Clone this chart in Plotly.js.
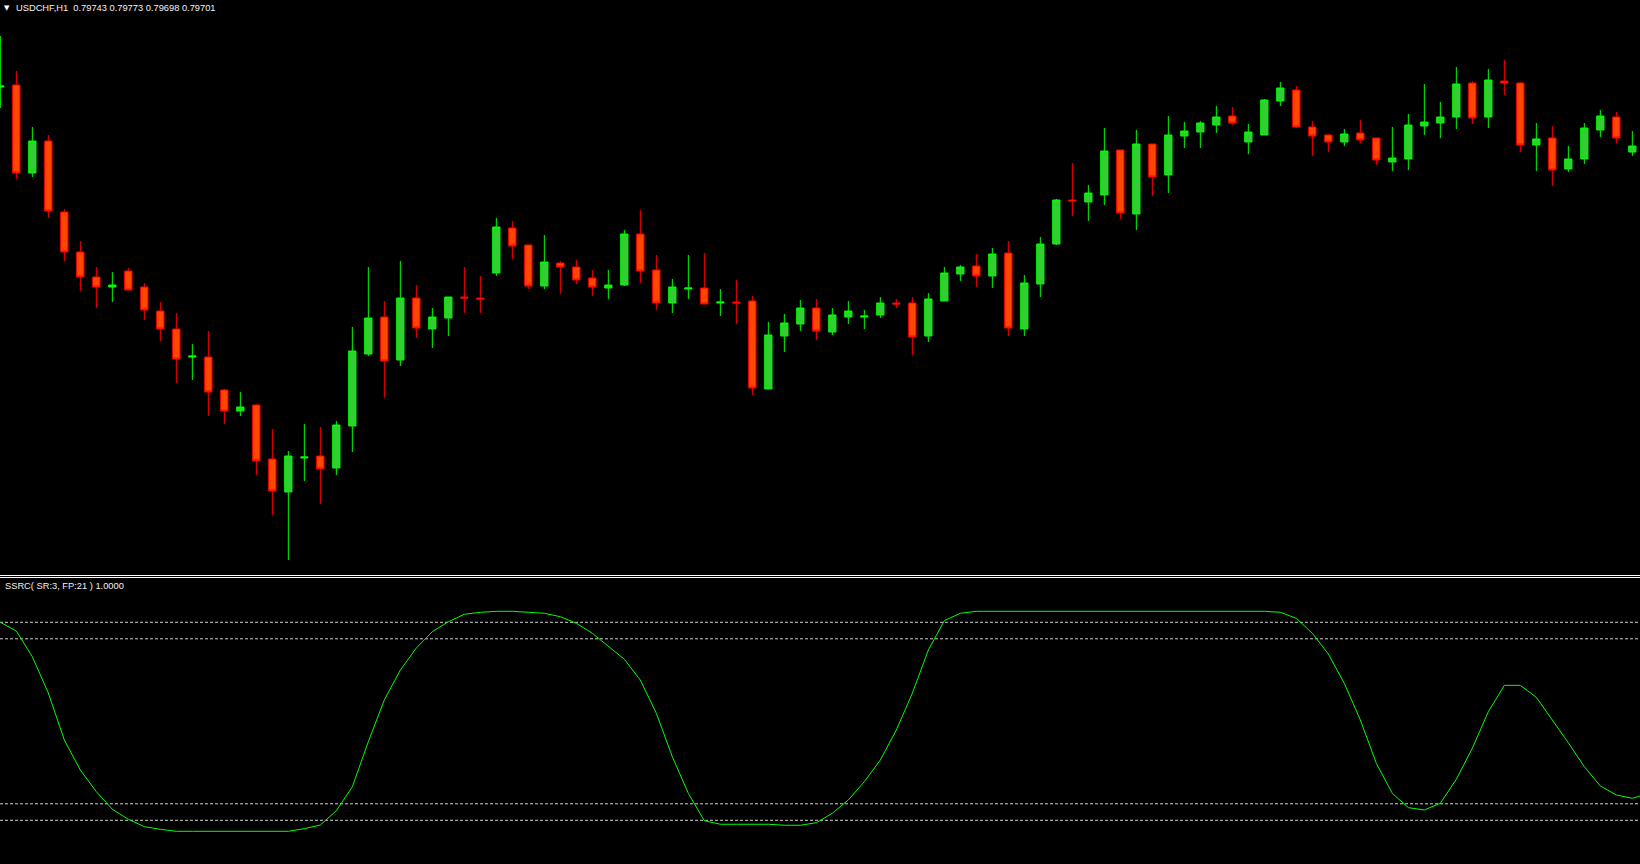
<!DOCTYPE html>
<html>
<head>
<meta charset="utf-8">
<script src="https://cdn.plot.ly/plotly-3.0.1.min.js"></script>
<style>html,body{margin:0;padding:0;background:#000;}#chart{width:1640px;height:864px;}</style>
</head>
<body>
<div id="chart"></div>
<script>
const symbol = 'USDCHF';
const timeframe = 'H1';
const indicatorLabel = 'SSRC( SR:3, FP:21 ) 1.0000';

const open = [
0.79905, 0.79911, 0.79647, 0.79743, 0.79530, 0.79410, 0.79335, 0.79305, 0.79353, 0.79305,
0.79233, 0.79179, 0.79095, 0.79095, 0.78996, 0.78933, 0.78951, 0.78789, 0.78690, 0.78792,
0.78798, 0.78762, 0.78888, 0.79104, 0.79215, 0.79086, 0.79272, 0.79179, 0.79212, 0.79275,
0.79272, 0.79347, 0.79482, 0.79431, 0.79308, 0.79377, 0.79365, 0.79332, 0.79302, 0.79311,
0.79464, 0.79356, 0.79257, 0.79299, 0.79302, 0.79257, 0.79260, 0.79263, 0.78999, 0.79158,
0.79194, 0.79242, 0.79170, 0.79215, 0.79215, 0.79221, 0.79257, 0.79257, 0.79158, 0.79263,
0.79344, 0.79368, 0.79338, 0.79407, 0.79179, 0.79314, 0.79434, 0.79566, 0.79560, 0.79581,
0.79716, 0.79524, 0.79734, 0.79641, 0.79758, 0.79770, 0.79791, 0.79818, 0.79740, 0.79761,
0.79863, 0.79896, 0.79785, 0.79761, 0.79740, 0.79767, 0.79752, 0.79680, 0.79689, 0.79788,
0.79797, 0.79815, 0.79917, 0.79815, 0.79923, 0.79917, 0.79731, 0.79752, 0.79659, 0.79689,
0.79776, 0.79815, 0.79710, 0.79743
];
const high = [
0.80058, 0.79953, 0.79785, 0.79761, 0.79539, 0.79443, 0.79365, 0.79350, 0.79362, 0.79317,
0.79260, 0.79227, 0.79134, 0.79173, 0.78999, 0.78990, 0.78954, 0.78879, 0.78813, 0.78894,
0.78885, 0.78903, 0.79185, 0.79365, 0.79263, 0.79383, 0.79311, 0.79242, 0.79275, 0.79365,
0.79338, 0.79512, 0.79503, 0.79431, 0.79461, 0.79383, 0.79386, 0.79356, 0.79356, 0.79476,
0.79536, 0.79401, 0.79329, 0.79401, 0.79407, 0.79299, 0.79326, 0.79278, 0.79200, 0.79224,
0.79266, 0.79269, 0.79242, 0.79263, 0.79236, 0.79275, 0.79269, 0.79275, 0.79287, 0.79365,
0.79371, 0.79404, 0.79422, 0.79443, 0.79341, 0.79455, 0.79569, 0.79677, 0.79611, 0.79782,
0.79716, 0.79776, 0.79734, 0.79818, 0.79800, 0.79803, 0.79848, 0.79845, 0.79794, 0.79869,
0.79920, 0.79908, 0.79803, 0.79764, 0.79779, 0.79806, 0.79752, 0.79785, 0.79824, 0.79914,
0.79860, 0.79965, 0.79923, 0.79959, 0.79986, 0.79920, 0.79797, 0.79788, 0.79728, 0.79797,
0.79836, 0.79830, 0.79773, 0.79773
];
const low = [
0.79842, 0.79629, 0.79635, 0.79512, 0.79383, 0.79293, 0.79242, 0.79260, 0.79296, 0.79206,
0.79143, 0.79017, 0.79026, 0.78918, 0.78894, 0.78918, 0.78741, 0.78621, 0.78486, 0.78723,
0.78654, 0.78741, 0.78810, 0.79098, 0.78972, 0.79068, 0.79152, 0.79122, 0.79158, 0.79227,
0.79227, 0.79338, 0.79389, 0.79299, 0.79299, 0.79284, 0.79314, 0.79278, 0.79269, 0.79308,
0.79317, 0.79236, 0.79227, 0.79269, 0.79254, 0.79218, 0.79194, 0.78981, 0.78999, 0.79110,
0.79173, 0.79146, 0.79161, 0.79194, 0.79179, 0.79212, 0.79242, 0.79101, 0.79140, 0.79263,
0.79323, 0.79305, 0.79302, 0.79158, 0.79158, 0.79275, 0.79431, 0.79518, 0.79503, 0.79551,
0.79509, 0.79476, 0.79578, 0.79587, 0.79722, 0.79722, 0.79767, 0.79791, 0.79704, 0.79761,
0.79848, 0.79782, 0.79698, 0.79710, 0.79728, 0.79737, 0.79671, 0.79653, 0.79656, 0.79761,
0.79752, 0.79779, 0.79794, 0.79782, 0.79881, 0.79710, 0.79653, 0.79608, 0.79650, 0.79674,
0.79755, 0.79737, 0.79698, 0.79698
];
const close = [
0.79908, 0.79647, 0.79743, 0.79533, 0.79410, 0.79335, 0.79305, 0.79311, 0.79296, 0.79236,
0.79179, 0.79089, 0.79098, 0.78990, 0.78933, 0.78945, 0.78783, 0.78693, 0.78798, 0.78795,
0.78759, 0.78891, 0.79113, 0.79212, 0.79083, 0.79272, 0.79182, 0.79215, 0.79275, 0.79272,
0.79269, 0.79485, 0.79428, 0.79308, 0.79380, 0.79365, 0.79326, 0.79305, 0.79311, 0.79464,
0.79353, 0.79257, 0.79305, 0.79302, 0.79254, 0.79260, 0.79257, 0.79002, 0.79161, 0.79197,
0.79242, 0.79173, 0.79221, 0.79233, 0.79218, 0.79257, 0.79254, 0.79155, 0.79269, 0.79347,
0.79365, 0.79338, 0.79404, 0.79182, 0.79317, 0.79434, 0.79566, 0.79563, 0.79587, 0.79713,
0.79527, 0.79734, 0.79635, 0.79761, 0.79773, 0.79797, 0.79815, 0.79797, 0.79770, 0.79866,
0.79902, 0.79785, 0.79758, 0.79740, 0.79764, 0.79746, 0.79686, 0.79692, 0.79791, 0.79800,
0.79815, 0.79914, 0.79812, 0.79926, 0.79917, 0.79731, 0.79749, 0.79656, 0.79689, 0.79782,
0.79818, 0.79752, 0.79728, 0.79701
];
const ssrc = [
0.900, 0.821, 0.587, 0.257, -0.170, -0.443, -0.640, -0.800, -0.891, -0.958,
-0.982, -1.000, -1.000, -1.000, -1.000, -1.000, -1.000, -1.000, -1.000, -0.976,
-0.943, -0.813, -0.595, -0.185, 0.194, 0.466, 0.666, 0.815, 0.905, 0.973,
0.991, 1.000, 1.000, 0.991, 0.982, 0.951, 0.891, 0.800, 0.678, 0.564,
0.375, 0.073, -0.322, -0.655, -0.904, -0.936, -0.936, -0.936, -0.936, -0.945,
-0.945, -0.922, -0.836, -0.715, -0.549, -0.352, -0.079, 0.255, 0.648, 0.915,
0.982, 1.000, 1.000, 1.000, 1.000, 1.000, 1.000, 1.000, 1.000, 1.000,
1.000, 1.000, 1.000, 1.000, 1.000, 1.000, 1.000, 1.000, 1.000, 1.000,
0.991, 0.936, 0.800, 0.612, 0.345, 0.012, -0.382, -0.655, -0.785, -0.806,
-0.745, -0.527, -0.245, 0.087, 0.327, 0.327, 0.218, 0.012, -0.195, -0.413,
-0.588, -0.670, -0.700, -0.655
];
const levels = [0.9, 0.75, -0.75, -0.9];

const bars = open.map((_, i) => i);
const last = open.length - 1;
const fmt = v => v.toFixed(5);
const headerText = symbol + ',' + timeframe + '\u00A0\u00A0' +
  [open[last], high[last], low[last], close[last]].map(fmt).join(' ');

const W = 1640, H = 864;
const font = 'Liberation Sans, Arial, sans-serif';

const traces = [
  {
    type: 'candlestick', x: bars, open: open, high: high, low: low, close: close,
    xaxis: 'x', yaxis: 'y',
    increasing: {line: {color: '#00FF00', width: 1}, fillcolor: '#32CD32'},
    decreasing: {line: {color: '#FF0000', width: 1}, fillcolor: '#FF4500'},
    whiskerwidth: 0, hoverinfo: 'none', showlegend: false
  },
  {
    type: 'scatter', mode: 'lines', x: bars, y: ssrc, xaxis: 'x', yaxis: 'y2',
    line: {color: '#00FF00', width: 1}, hoverinfo: 'none', showlegend: false
  }
];

const shapes = levels.map(lv => ({
  type: 'line', xref: 'paper', yref: 'y2', x0: 0, x1: 1, y0: lv, y1: lv,
  line: {color: '#D0D0D0', width: 1, dash: '3px,2px'}, layer: 'below'
}));
[575.5, 577.5].forEach(py => shapes.push({
  type: 'line', xref: 'paper', yref: 'paper', x0: 0, x1: 1, y0: 1 - py / H, y1: 1 - py / H,
  line: {color: '#FFFFFF', width: 1}
}));

const layout = {
  width: W, height: H,
  margin: {l: 0, r: 0, t: 0, b: 0, pad: 0},
  paper_bgcolor: '#000000', plot_bgcolor: '#000000',
  showlegend: false, boxgap: 0.35,
  xaxis: {range: [-0.33 / 16, (W - 0.33) / 16], visible: false, showgrid: false, zeroline: false,
          rangeslider: {visible: false}, fixedrange: true},
  yaxis: {domain: [1 - 575 / H, 1], range: [0.78441, 0.80166], visible: false, showgrid: false, zeroline: false},
  yaxis2: {domain: [0, (H - 579) / H], range: [-1.2973, 1.2936], visible: false, showgrid: false,
           zeroline: false, anchor: 'x'},
  shapes: shapes,
  annotations: [
    {xref: 'paper', yref: 'paper', x: 6.5 / W, y: 1 - 7.5 / H, xanchor: 'center', yanchor: 'middle',
     text: '\u25BC', showarrow: false, font: {family: 'DejaVu Sans', size: 7, color: '#FFFFFF'}},
    {xref: 'paper', yref: 'paper', x: 14 / W, y: 1 - 7.5 / H, xanchor: 'left', yanchor: 'middle',
     text: headerText, showarrow: false, font: {family: font, size: 9.3, color: '#F2F2F2'}},
    {xref: 'paper', yref: 'paper', x: 3 / W, y: 1 - 586 / H, xanchor: 'left', yanchor: 'middle',
     text: indicatorLabel, showarrow: false, font: {family: font, size: 9.3, color: '#F2F2F2'}}
  ]
};

Plotly.newPlot('chart', traces, layout, {staticPlot: true, displayModeBar: false});
</script>
</body>
</html>
